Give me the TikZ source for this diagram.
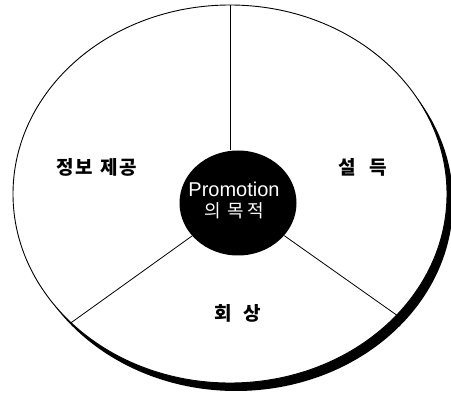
\documentclass[tikz,border=0pt]{standalone}
\usepackage{fontspec}
\setmainfont{Liberation Sans}
\newfontfamily\krfont{Noto Sans CJK KR}[LetterSpace=8]
\usetikzlibrary{shapes.geometric}
\begin{document}
\begin{tikzpicture}[x=1pt,y=1pt,
  disc/.style={ellipse, minimum width=434pt, minimum height=378pt, inner sep=0pt},
  core/.style={ellipse, fill=black, minimum width=117pt, minimum height=105pt, inner sep=0pt},
  divider/.style={draw=black, line width=0.8pt},
  part/.style={font=\krfont\bfseries\fontsize{19}{20}\selectfont, inner sep=0pt},
  coretxt/.style={text=white, align=center, inner sep=0pt, font=\fontsize{20}{21}\selectfont}
]
\useasboundingbox (0,0) rectangle (451,392);
\node[disc, fill=black] (shadow) at (236,190) {};
\node[disc, draw=black, fill=white, line width=0.9pt] (outer) at (230,198) {};
\node[core] (core) at (238,189) {};
\draw[divider] (outer.north) -- (outer.north |- core.north);
\draw[divider] (core) -- (outer.219.4);
\draw[divider] (core) -- (outer.-36.4);
\node[coretxt] (ptxt) at (234,192) {Promotion\\{\krfont\fontsize{18}{21}\selectfont 의\hspace{7pt}목\hspace{3pt}적}};
\node[part] (info) at (97,225) {정보\hspace{8pt}제공};
\node[part] (persuade) at (363,225) {설\hspace{14pt}득};
\node[part] (recall) at (238,79) {회\hspace{12pt}상};
\end{tikzpicture}
\end{document}
